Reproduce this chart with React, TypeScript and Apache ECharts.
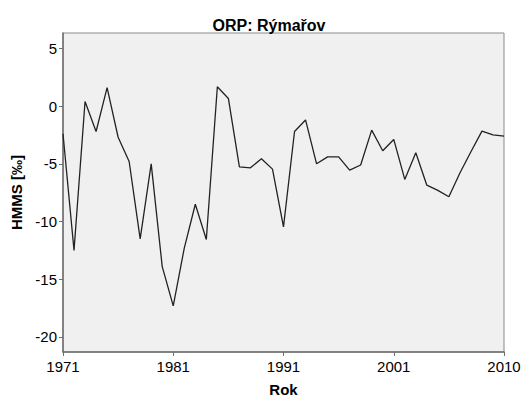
import React, { useEffect, useRef } from "react";
import * as echarts from "echarts";

const titleText = "ORP: Rýmařov";
const xAxisName = "Rok";
const yAxisName = "HMMS [‰]";
const xTickLabels = ["1971", "1981", "1991", "2001", "2010"];
const yTickValues = [-20, -15, -10, -5, 0, 5];
const values = [
  -2.4, -12.5, 0.4, -2.2, 1.6, -2.7, -4.8, -11.5, -5.0, -13.9,
  -17.3, -12.3, -8.5, -11.55, 1.67, 0.66, -5.26, -5.35, -4.56, -5.46,
  -10.46, -2.2, -1.2, -5.0, -4.4, -4.4, -5.55, -5.1, -2.08, -3.87,
  -2.89, -6.35, -4.04, -6.85, -7.3, -7.85, -5.8, -3.96, -2.17, -2.5,
  -2.6,
];
const categories = values.map((_, i) => String(i));

export default function App() {
  const ref = useRef<HTMLDivElement>(null);
  useEffect(() => {
    if (!ref.current) return;
    const chart = echarts.init(ref.current, null, { renderer: "svg" });
    const font = "Liberation Sans, Arial, sans-serif";
    chart.setOption({
      animation: false,
      title: {
        text: titleText,
        left: 264,
        textAlign: "center",
        top: 12,
        textStyle: { fontFamily: font, fontSize: 16, fontWeight: "bold", color: "#000" },
      },
      grid: {
        left: 63,
        right: 23,
        top: 33,
        bottom: 51,
        show: true,
        backgroundColor: "#f0f0f0",
        borderColor: "#8a8a8a",
        borderWidth: 1,
      },
      xAxis: {
        type: "category",
        data: categories,
        boundaryGap: false,
        name: xAxisName,
        nameLocation: "middle",
        nameGap: 30,
        nameTextStyle: { fontFamily: font, fontSize: 15, fontWeight: "bold", color: "#000" },
        axisLine: { onZero: false, lineStyle: { color: "#6e6e6e", width: 1.5 } },
        axisTick: {
          show: true,
          length: 4,
          interval: (i: number) => i % 10 === 0,
          lineStyle: { color: "#6e6e6e" },
        },
        axisLabel: {
          interval: (i: number) => i % 10 === 0,
          formatter: (_v: string, i: number) => xTickLabels[i / 10] ?? "",
          fontFamily: font,
          fontSize: 15,
          color: "#000",
          margin: 7,
        },
        splitLine: { show: false },
      },
      yAxis: {
        type: "value",
        min: -21.3,
        max: 6.33,
        name: yAxisName,
        nameLocation: "middle",
        nameGap: 38,
        nameTextStyle: { fontFamily: font, fontSize: 15, fontWeight: "bold", color: "#000" },
        axisLine: { show: true, onZero: false, lineStyle: { color: "#6e6e6e", width: 1.5 } },
        axisTick: { show: true, length: 4, customValues: yTickValues, lineStyle: { color: "#6e6e6e" } },
        axisLabel: {
          customValues: yTickValues,
          fontFamily: font,
          fontSize: 15,
          color: "#000",
          margin: 6,
        },
        splitLine: { show: false },
      },
      series: [
        {
          type: "line",
          data: values,
          symbol: "none",
          lineStyle: { color: "#222", width: 1.3 },
        },
      ],
    });
    return () => chart.dispose();
  }, []);
  return <div ref={ref} style={{ width: 527, height: 403, position: "absolute", left: 0, top: 0 }} />;
}
